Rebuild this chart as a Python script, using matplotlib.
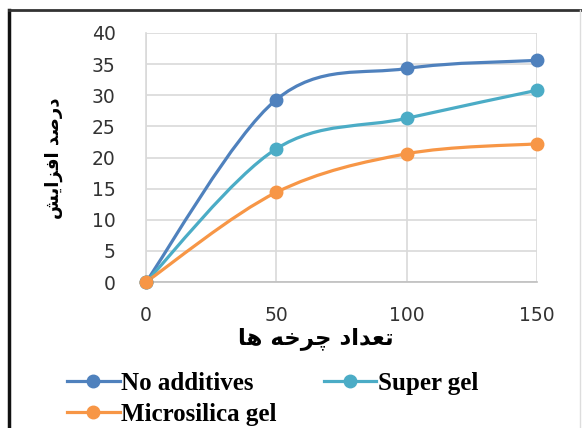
import matplotlib
matplotlib.use("Agg")
import matplotlib.pyplot as plt
from matplotlib.path import Path
from matplotlib.patches import PathPatch
from matplotlib.lines import Line2D

# ---- data ----
cycles = [0, 50, 100, 150]
no_additives = [0, 29.3, 34.3, 35.6]
super_gel = [0, 21.4, 26.3, 30.8]
microsilica_gel = [0, 14.4, 20.6, 22.2]
series_names = ["No additives", "Super gel", "Microsilica gel"]
series_colors = ["#4F81BD", "#4BACC6", "#F79646"]
x_ticks = [0, 50, 100, 150]
y_ticks = [0, 5, 10, 15, 20, 25, 30, 35, 40]
x_label = "تعداد چرخه ها"
y_label = "درصد افزایش"

# Persian shaping (manual, presentation forms), reversed for LTR rendering
shape_x = "\uFE97\uFECC\uFEAA\uFE8D\uFEA9 \uFB7C\uFEAE\uFEA7\uFEEA \uFEEB\uFE8E"
shape_y = "\uFEA9\uFEAD\uFEBB\uFEAA \uFE8D\uFED3\uFEB0\uFE8D\uFEF3\uFEB6"
x_label_vis = shape_x[::-1]
y_label_vis = shape_y[::-1]

W, H = 582, 428
fig = plt.figure(figsize=(W / 100, H / 100), dpi=100)
fig.patch.set_facecolor("white")

L, R, T, B = 146, 537, 33, 282
ax = fig.add_axes([L / W, 1 - B / H, (R - L) / W, (B - T) / H])
ax.set_xlim(0, 150)
ax.set_ylim(0, 40)
ax.set_xticks(x_ticks)
ax.set_yticks(y_ticks)
ax.grid(True, color="#d9d9d9", linewidth=1.2)
ax.set_axisbelow(True)
for s in ["top", "right"]:
    ax.spines[s].set_visible(False)
ax.spines["left"].set_color("#d9d9d9")
ax.spines["left"].set_linewidth(1.2)
ax.spines["bottom"].set_color("#bfbfbf")
ax.spines["bottom"].set_linewidth(1.2)
ax.tick_params(axis="both", length=0, labelsize=13.5, labelcolor="#333333")
ax.tick_params(axis="y", pad=22)
ax.tick_params(axis="x", pad=17)


def excel_smooth(xs, ys):
    pts = list(zip(xs, ys))
    n = len(pts)
    verts = [pts[0]]
    codes = [Path.MOVETO]
    for i in range(n - 1):
        p0 = pts[i - 1] if i > 0 else pts[i]
        p1 = pts[i]
        p2 = pts[i + 1]
        p3 = pts[i + 2] if i + 2 < n else pts[i + 1]
        c1 = (p1[0] + (p2[0] - p0[0]) / 6, p1[1] + (p2[1] - p0[1]) / 6)
        c2 = (p2[0] - (p3[0] - p1[0]) / 6, p2[1] - (p3[1] - p1[1]) / 6)
        verts += [c1, c2, p2]
        codes += [Path.CURVE4] * 3
    return Path(verts, codes)


data = [no_additives, super_gel, microsilica_gel]
handles = []
for name, vals, col in zip(series_names, data, series_colors):
    patch = PathPatch(excel_smooth(cycles, vals), facecolor="none", edgecolor=col,
                      linewidth=2.3, capstyle="round", joinstyle="round", zorder=3)
    ax.add_patch(patch)
    ax.plot(cycles, vals, linestyle="none", marker="o", markersize=9,
            color=col, zorder=4, clip_on=False)
    handles.append(Line2D([], [], color=col, linewidth=2.3, marker="o", markersize=9))

# axis titles
fig.text(316 / W, 1 - 339 / H, x_label_vis, ha="center", va="center",
         fontsize=16.5, fontweight="bold", family="DejaVu Sans", color="black")
fig.text(54 / W, 1 - 158 / H, y_label_vis, ha="center", va="center", rotation=90,
         fontsize=13, fontweight="bold", family="DejaVu Sans", color="black")

# legend (row-major order)
order = [0, 2, 1]
leg = fig.legend([handles[i] for i in order], [series_names[i] for i in order],
                 ncol=2, loc="upper left", bbox_to_anchor=(67 / W, 1 - 372 / H),
                 frameon=False, borderpad=0, borderaxespad=0,
                 handlelength=2.1, handletextpad=0.05,
                 columnspacing=1.9, labelspacing=0.3,
                 prop={"family": "Liberation Serif", "weight": "bold", "size": 18})

# chart frame
fig.add_artist(Line2D([9 / W, 9 / W], [0, 1 - 10 / H], transform=fig.transFigure,
                      color="#111111", linewidth=2.5))
fig.add_artist(Line2D([9 / W, 1], [1 - 10 / H, 1 - 10 / H], transform=fig.transFigure,
                      color="#333333", linewidth=2))
fig.add_artist(Line2D([580 / W, 580 / W], [0, 1 - 10 / H], transform=fig.transFigure,
                      color="#dddddd", linewidth=1))

fig.savefig("out.png", dpi=100)
